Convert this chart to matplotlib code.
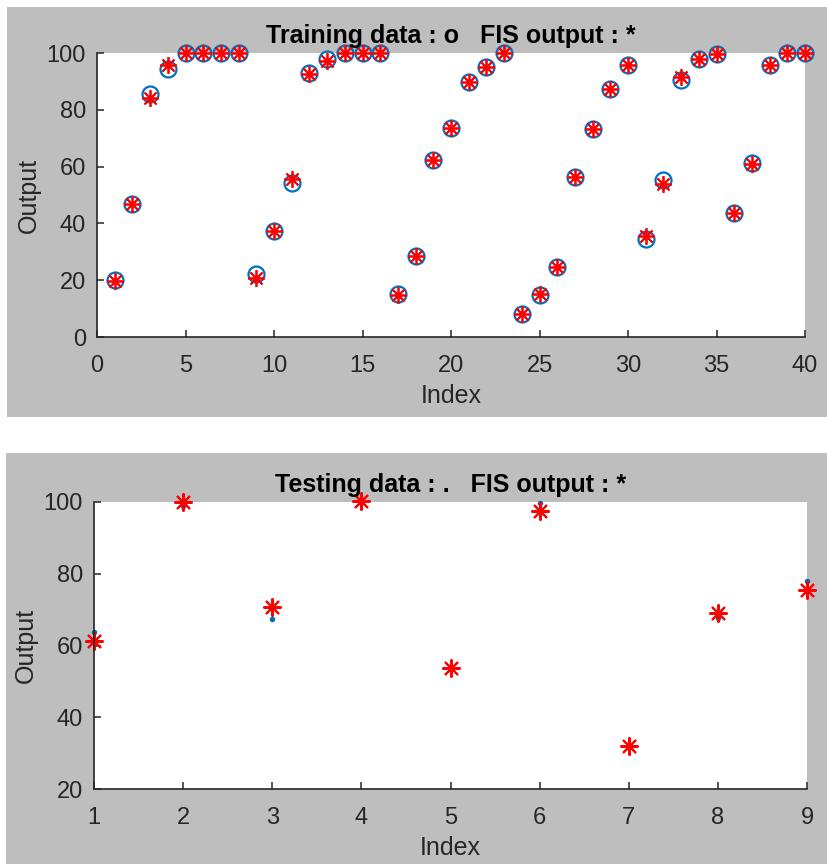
import numpy as np
import matplotlib
matplotlib.use('Agg')
import matplotlib.pyplot as plt
from matplotlib.patches import Rectangle

# training data (o) and FIS output (*)
train_idx = np.arange(1, 41)
train_data = [20, 47, 85.4, 94.5, 100, 100, 100, 100, 22.1, 37.5,
              54.2, 93, 98, 100, 100, 100, 15.3, 28.5, 62.2, 73.6,
              89.8, 95.1, 100, 8.2, 14.7, 24.6, 56.3, 73.4, 87.4, 95.7,
              34.6, 55.2, 90.6, 98, 99.8, 43.8, 61.4, 95.7, 100, 100]
train_fis = [19.8, 46.8, 84.2, 95.9, 100, 100, 100, 100, 20.9, 37.5,
             55.8, 92.5, 97.2, 100, 100, 100, 14.9, 28.5, 62.2, 73.6,
             89.8, 95.1, 100, 8.2, 15.3, 24.6, 56.3, 73.4, 87.4, 95.7,
             35.6, 54.0, 91.5, 98, 99.8, 43.8, 61.0, 95.7, 100, 100]

# testing data (.) and FIS output (*)
test_idx = np.arange(1, 10)
test_data = [63.8, 98.9, 67.5, 100, 53.7, 99.8, 32.0, 67.7, 78.1]
test_fis = [61.3, 100, 70.6, 100.4, 53.7, 97.5, 32.0, 69.1, 75.5]

W, H = 828, 864
fig = plt.figure(figsize=(W / 100, H / 100), dpi=100)
fig.patch.set_facecolor('white')

gray = '#bebebe'
txt = '#262626'
plt.rcParams['font.family'] = ['Liberation Sans', 'DejaVu Sans']
asterisk = (8, 2, 0)  # matlab style '*'

def px(x0, y0, x1, y1):
    # pixel box -> figure fraction [left, bottom, width, height]
    return [x0 / W, 1 - y1 / H, (x1 - x0) / W, (y1 - y0) / H]

# gray panels behind each axes
for (x0, y0, x1, y1) in [(7, 7, 828, 417), (6, 453, 828, 864)]:
    b = px(x0, y0, x1, y1)
    fig.add_artist(Rectangle((b[0], b[1]), b[2], b[3], transform=fig.transFigure,
                             facecolor=gray, edgecolor='none', zorder=-5))

def style(ax, title, xlab_y):
    ax.set_zorder(2)
    ax.set_facecolor('white')
    for s in ['top', 'right']:
        ax.spines[s].set_visible(False)
    for s in ['left', 'bottom']:
        ax.spines[s].set_color(txt)
        ax.spines[s].set_linewidth(1.2)
    ax.tick_params(direction='in', length=5, width=1.1, colors=txt, labelsize=17)
    ax.tick_params(axis='x', pad=13)
    ax.tick_params(axis='y', pad=8)
    ax.set_ylabel('Output', fontsize=18, color=txt, va='center')
    ax.yaxis.set_label_coords(-0.096, 0.5)
    ax.set_xlabel('Index', fontsize=18, color=txt, va='center')
    ax.xaxis.set_label_coords(0.5, xlab_y)
    ax.set_title(title, fontsize=18, fontweight='bold', y=1.036, pad=0, color='black')

ax1 = fig.add_axes(px(97, 53, 805, 337))
ax1.plot(train_idx, train_data, 'o', mfc='none', mec='#0072BD', ms=11.5, mew=1.6, clip_on=False)
ax1.plot(train_idx, train_fis, marker=asterisk, ls='none', color='red', ms=12, mew=1.3, clip_on=False)
ax1.set_xlim(0, 40)
ax1.set_ylim(0, 100)
ax1.set_xticks(range(0, 41, 5))
ax1.set_yticks(range(0, 101, 20))
style(ax1, 'Training data : o   FIS output : *', -0.208)

ax2 = fig.add_axes(px(94, 502, 807, 789))
ax2.plot(test_idx, test_data, 'o', color='#0072BD', ms=4, mew=0, clip_on=False)
ax2.plot(test_idx, test_fis, marker=asterisk, ls='none', color='red', ms=13, mew=1.5, clip_on=False)
ax2.set_xlim(1, 9)
ax2.set_ylim(20, 100)
ax2.set_xticks(range(1, 10))
ax2.set_yticks(range(20, 101, 20))
style(ax2, 'Testing data : .   FIS output : *', -0.206)

fig.savefig('out.png', dpi=100, facecolor='white')
